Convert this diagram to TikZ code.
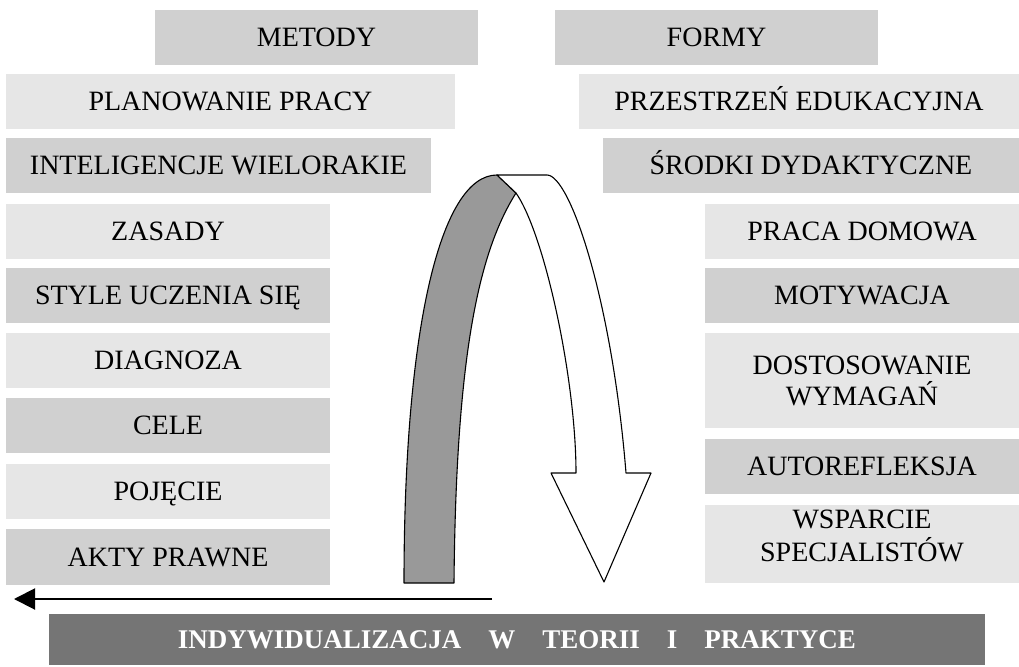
\documentclass[tikz,border=0pt]{standalone}
\usepackage{fontspec}
\setmainfont{Liberation Serif}
\usetikzlibrary{arrows.meta}
\definecolor{boxdark}{HTML}{D0D0D0}
\definecolor{boxlight}{HTML}{E6E6E6}
\definecolor{bandgray}{HTML}{999999}
\definecolor{bannergray}{HTML}{757575}
\newcommand{\pbox}[7]{%
  \node[onebox, fill=#6, minimum width={#4pt-#2pt}, minimum height={#5pt-#3pt}]
    (#1) at ({(#2+#4)/2},{(#3+#5)/2}) {#7};}
\newcommand{\pboxtwo}[8]{%
  \node[twobox, fill=#6, minimum width={#4pt-#2pt}, minimum height={#5pt-#3pt}, #8]
    (#1) at ({(#2+#4)/2},{(#3+#5)/2}) {#7};}
\begin{document}
\begin{tikzpicture}[x=1pt,y=-1pt,
  onebox/.style={inner sep=0pt, outer sep=0pt, font=\fontsize{28}{31}\selectfont,
    text height=18.5pt, text depth=0pt, text=black},
  twobox/.style={inner sep=0pt, outer sep=0pt, align=center, text=black},
  ribbon/.style={draw=black, line width=1.1pt, line join=round},
  titlebar/.style={fill=bannergray, inner sep=0pt, outer sep=0pt, text=white,
    font=\fontsize{27}{30}\selectfont\bfseries, text height=18pt, text depth=0pt},
  flowarrow/.style={line width=2pt, -{Triangle[length=21pt,width=21pt]}}]
\useasboundingbox (0,0) rectangle (1019,666);
% top row
\pbox{metody}{155}{10}{478}{65}{boxdark}{METODY}
\pbox{formy}{555}{10}{878}{65}{boxdark}{FORMY}
\pbox{planowanie}{6}{74}{455}{129}{boxlight}{PLANOWANIE PRACY}
\pbox{przestrzen}{579}{74}{1019}{129}{boxlight}{PRZESTRZEŃ EDUKACYJNA}
\pbox{inteligencje}{6}{138}{431}{193}{boxdark}{INTELIGENCJE WIELORAKIE}
\pbox{srodki}{603}{138}{1019}{193}{boxdark}{ŚRODKI DYDAKTYCZNE}
% left column
\pbox{zasady}{6}{204}{330}{259}{boxlight}{ZASADY}
\pbox{style}{6}{268}{330}{323}{boxdark}{STYLE UCZENIA SIĘ}
\pbox{diagnoza}{6}{333}{330}{388}{boxlight}{DIAGNOZA}
\pbox{cele}{6}{398}{330}{453}{boxdark}{CELE}
\pbox{pojecie}{6}{464}{330}{519}{boxlight}{POJĘCIE}
\pbox{akty}{6}{529}{330}{585}{boxdark}{AKTY PRAWNE}
% right column
\pbox{praca}{705}{204}{1019}{259}{boxlight}{PRACA DOMOWA}
\pbox{motywacja}{705}{268}{1019}{323}{boxdark}{MOTYWACJA}
\pboxtwo{dostosowanie}{705}{333}{1019}{428}{boxlight}{DOSTOSOWANIE\\WYMAGAŃ}{font=\fontsize{28}{31}\selectfont}
\pbox{autorefleksja}{705}{439}{1019}{494}{boxdark}{AUTOREFLEKSJA}
\pboxtwo{wsparcie}{705}{505}{1019}{583}{boxlight}{WSPARCIE\\SPECJALISTÓW}{font=\fontsize{28}{33}\selectfont, text depth=17pt}
% ribbon arrow
\path[ribbon, fill=bandgray] (404,583) .. controls (404,330) and (440,175) .. (497,175)
  -- (516,193) .. controls (480,250) and (456,350) .. (454,583) -- cycle;
\path[ribbon, fill=white] (497,175) -- (547,175) .. controls (570,175) and (612,300) .. (626,473)
  -- (651,473) -- (604,582) -- (551,473) -- (576,473)
  .. controls (576,380) and (545,235) .. (516,193) -- cycle;
% bottom arrow
\coordinate (arrowstart) at (492,599);
\coordinate (arrowend) at (14,599);
\draw[flowarrow] (arrowstart) -- (arrowend);
% title bar
\node[titlebar, minimum width=936pt, minimum height=51pt] (title) at (517,639.5)
  {INDYWIDUALIZACJA\hspace{27pt}W\hspace{27pt}TEORII\hspace{27pt}I\hspace{27pt}PRAKTYCE};
\end{tikzpicture}
\end{document}
